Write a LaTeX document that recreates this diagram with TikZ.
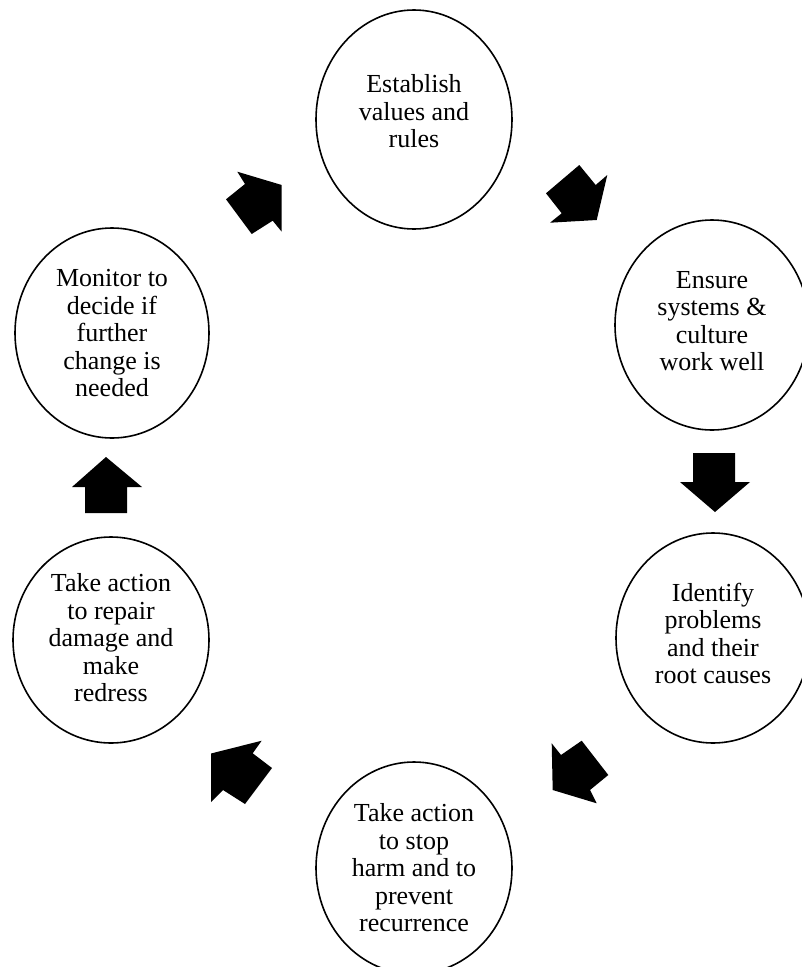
\documentclass[tikz,border=0pt]{standalone}
\usepackage{fontspec}
\setmainfont{Liberation Serif}
\usetikzlibrary{shapes.geometric}
\newcommand\lifttext[2]{\raisebox{0pt}[\height][\dimexpr\depth+#1\relax]{\begin{tabular}{@{}c@{}}#2\end{tabular}}}
\begin{document}
\begin{tikzpicture}[x=1pt,y=-1pt,
  stage/.style={ellipse, draw=black, line width=1.6pt, align=center, inner sep=0pt,
    font=\fontsize{26}{27.5}\selectfont},
  blockarrow/.style={fill=black, draw=none}]
\useasboundingbox (0,0) rectangle (802,967);
\clip (0,0) rectangle (802,967);
\fill[white] (0,0) rectangle (802,967);

\node[stage, minimum width=196pt, minimum height=219pt] (est) at (414,119.5) {\lifttext{10pt}{Establish\\values and\\rules}};
\node[stage, minimum width=194pt, minimum height=210pt] (ens) at (712,325) {\lifttext{2pt}{Ensure\\systems \&\\culture\\work well}};
\node[stage, minimum width=194pt, minimum height=210pt] (ide) at (713,638) {\lifttext{2pt}{Identify\\problems\\and their\\root causes}};
\node[stage, minimum width=196pt, minimum height=212pt] (stp) at (414,868) {\lifttext{-6pt}{Take action\\to stop\\harm and to\\prevent\\recurrence}};
\node[stage, minimum width=196pt, minimum height=206pt] (rep) at (111,640) {\lifttext{-2pt}{Take action\\to repair\\damage and\\make\\redress}};
\node[stage, minimum width=194pt, minimum height=210pt] (mon) at (112,333) {\lifttext{-6pt}{Monitor to\\decide if\\further\\change is\\needed}};

% monitor -> establish
\fill[blockarrow] (237.3,171.7) -- (245,184) -- (226,199.3) -- (251.7,234) -- (272.7,220.7) -- (281.7,231.7) -- (281.7,185) -- cycle;
% establish -> ensure
\fill[blockarrow] (579.3,165) -- (595.7,185) -- (607.3,175) -- (596.7,220) -- (550,222.7) -- (561.7,213.3) -- (546,193.3) -- cycle;
% ensure -> identify
\fill[blockarrow] (693,453) -- (735,453) -- (735,482) -- (750,482) -- (715,512) -- (680,482) -- (693,482) -- cycle;
% identify -> stop
\fill[blockarrow] (551.7,743.3) -- (561,755) -- (581.7,740.7) -- (608.3,775) -- (590,790) -- (596.7,803.3) -- (552.7,790) -- cycle;
% stop -> repair
\fill[blockarrow] (211,753.5) -- (261.7,740.7) -- (252.7,753.3) -- (272,768) -- (245,804) -- (223,790) -- (211,802) -- cycle;
% repair -> monitor
\fill[blockarrow] (106,457) -- (142,487) -- (127,487) -- (127,513) -- (85,513) -- (85,487) -- (72,487) -- cycle;
\end{tikzpicture}
\end{document}
